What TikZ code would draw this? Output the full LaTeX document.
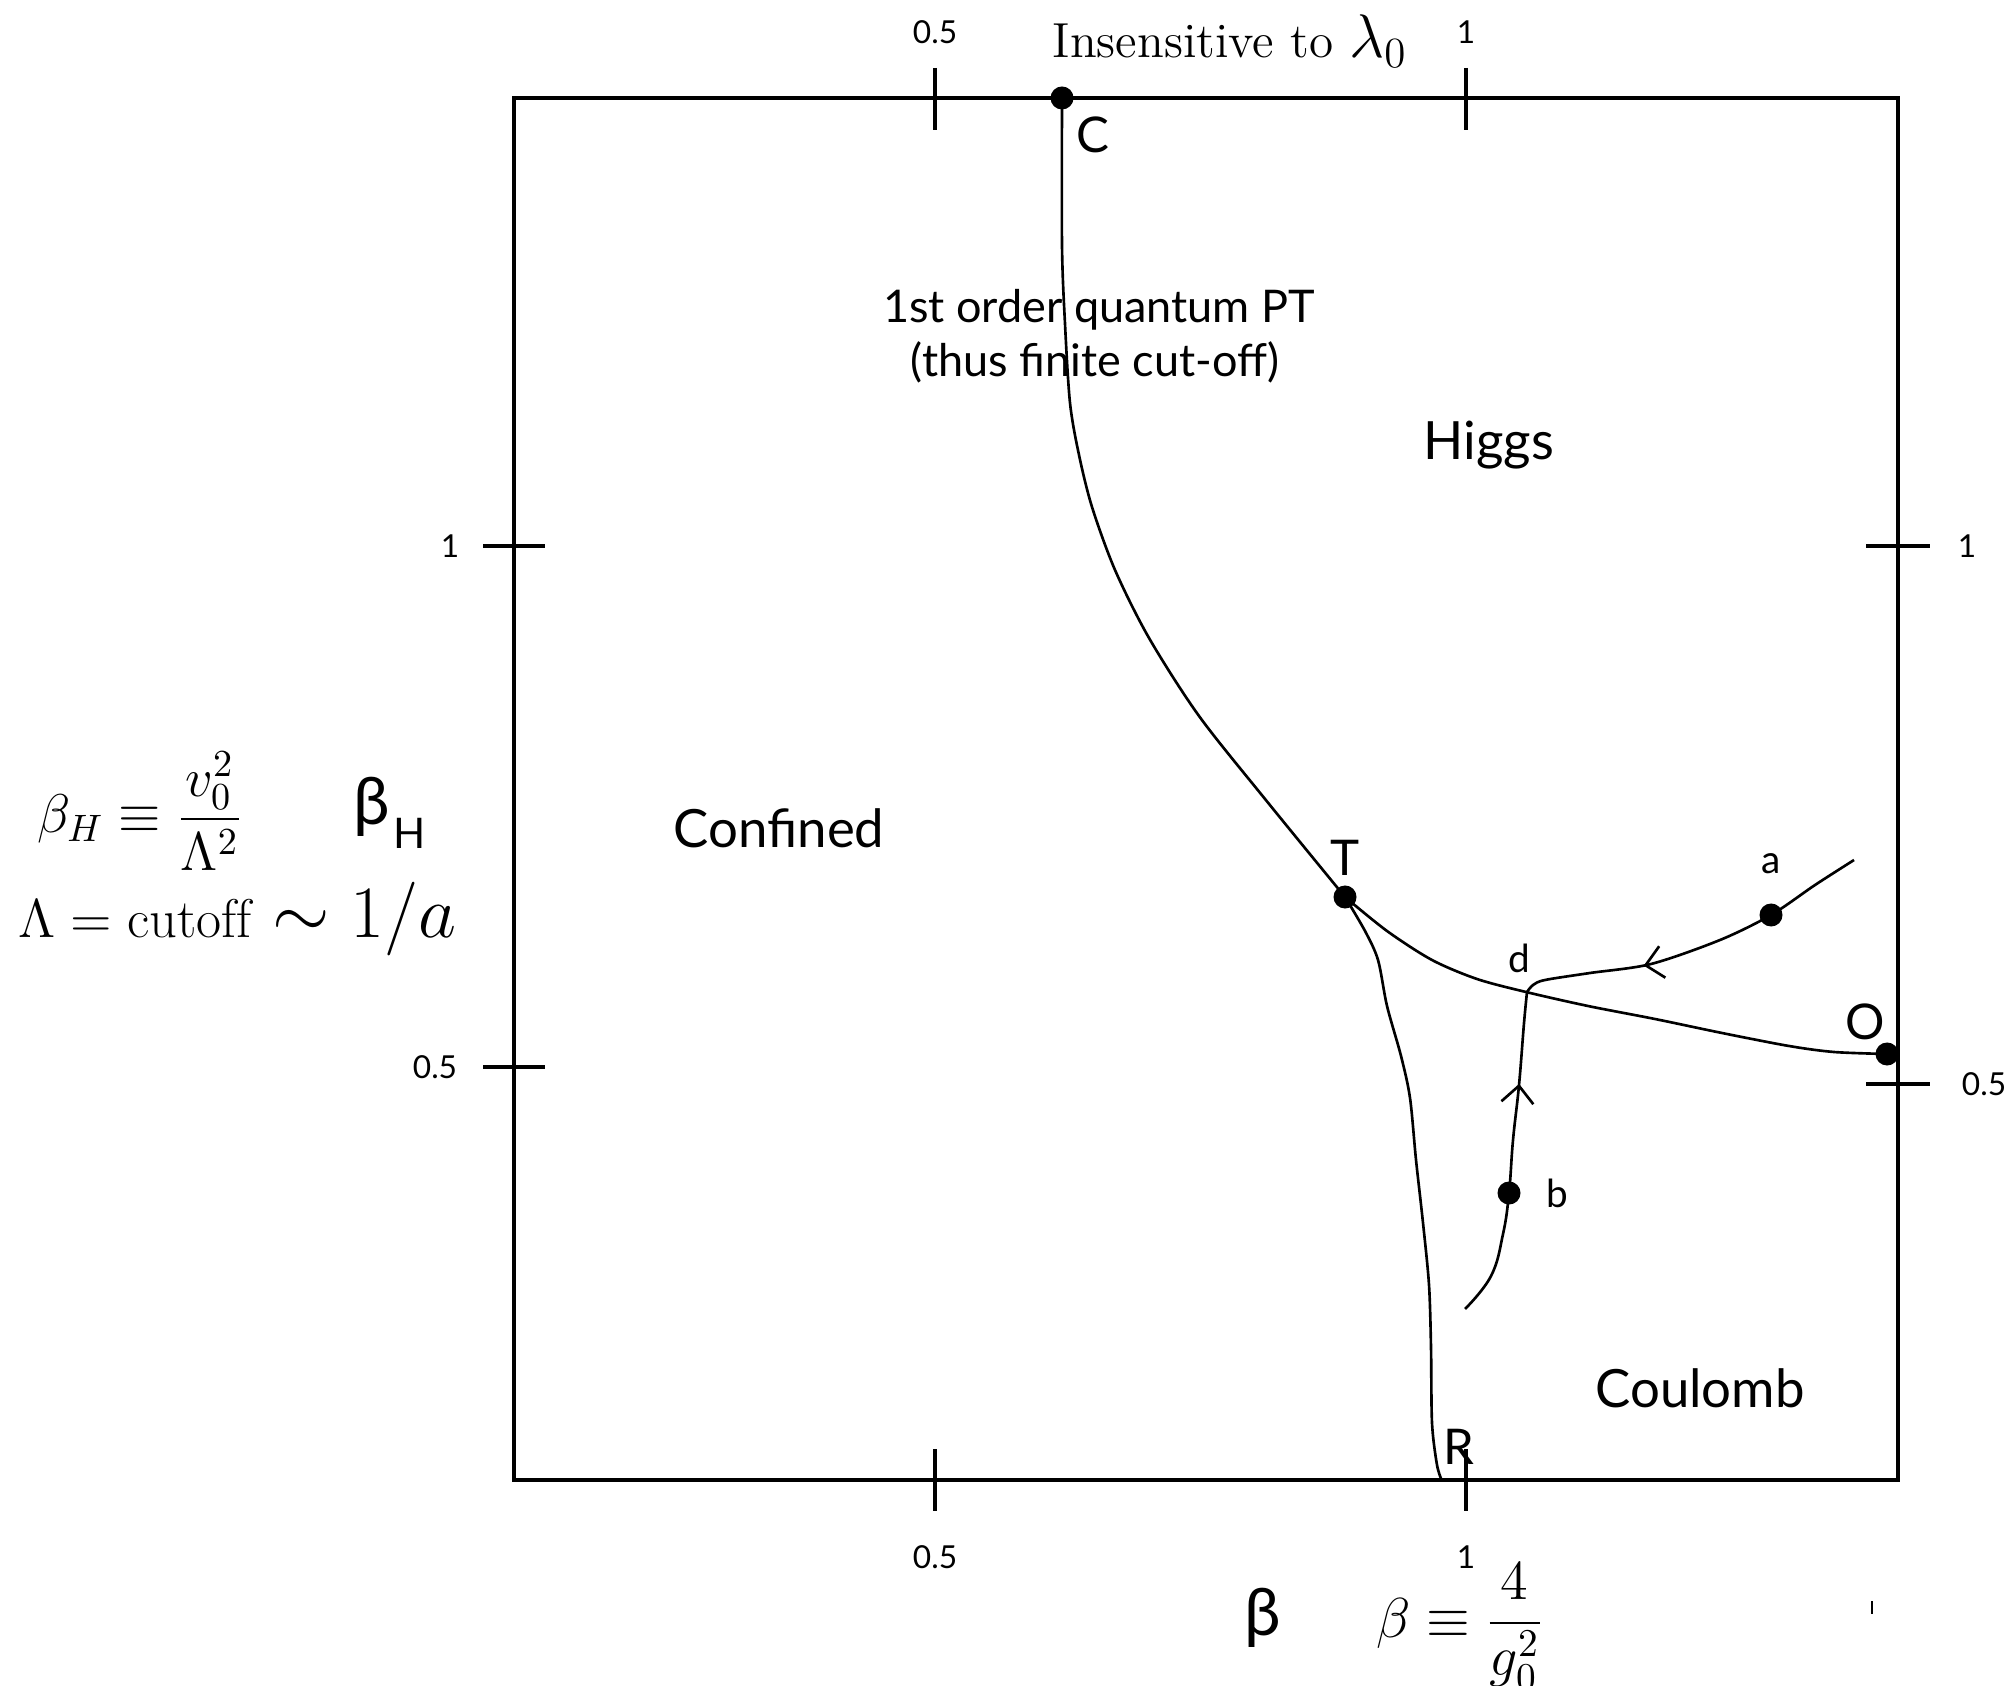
\RequirePackage{fix-cm}
\documentclass[tikz,border=0pt]{standalone}
\usepackage{amsmath,amssymb}
\usepackage{fontspec}
\newfontfamily\labelfont{Lato}
\usetikzlibrary{
  arrows.meta,
  positioning,
  decorations.markings
}
\tikzset{
  frame/.style={line width=0.9pt},
  tickmark/.style={line width=0.9pt},
  phaseline/.style={line width=0.75pt},
  flowline/.style={
    line width=0.75pt, postaction={decorate},
    decoration={markings,
      mark=at position #1 with {\arrow{Straight Barb[length=0.17cm,width=0.32cm]}}}
  },
  fixpt/.style={circle, fill=black, inner sep=0pt, minimum size=0.23cm},
  ticklbl/.style={font=\labelfont\fontsize{9}{9}\selectfont, inner sep=0pt},
  ptlbl/.style={font=\labelfont\fontsize{14}{14}\selectfont, inner sep=0pt},
  smalllbl/.style={font=\labelfont\fontsize{11}{11}\selectfont, inner sep=0pt},
  phaselbl/.style={font=\labelfont\fontsize{15}{15}\selectfont, inner sep=0pt},
  notelbl/.style={font=\labelfont\fontsize{12.8}{12.8}\selectfont, inner sep=0pt},
  mathlbl/.style={inner sep=0pt}
}

\begin{document}
\begin{tikzpicture}[x=0.01cm, y=-0.01cm]
  \useasboundingbox (0,0) rectangle (2016,1686);

  %% -- frame and ticks -------------------------------------------------
  \draw[frame] (514,98) rectangle (1898,1480);
  \foreach \xx in {935,1466} {
    \draw[tickmark] (\xx,68) -- (\xx,130);
    \draw[tickmark] (\xx,1449) -- (\xx,1511);
  }
  \draw[tickmark] (483,546) -- (545,546);
  \draw[tickmark] (483,1067) -- (545,1067);
  \draw[tickmark] (1866,546) -- (1930,546);
  \draw[tickmark] (1866,1084) -- (1930,1084);
  \draw[tickmark, line width=0.6pt] (1872,1601) -- (1872,1614);

  \node[ticklbl, anchor=base] (topa)   at (935,44)   {0.5};
  \node[ticklbl, anchor=base] (topb)   at (1466,44)  {1};
  \node[ticklbl, anchor=base] (bota)   at (935,1568) {0.5};
  \node[ticklbl, anchor=base] (botb)   at (1466,1568){1};
  \node[ticklbl] (lefta)  at (450,546)  {1};
  \node[ticklbl] (leftb)  at (435,1067) {0.5};
  \node[ticklbl] (righta) at (1967,546) {1};
  \node[ticklbl] (rightb) at (1984,1084){0.5};

  %% -- axis texts --------------------------------------------------------
  \node[mathlbl, anchor=base] (insens) at (1230,58)
    {\fontsize{14}{14}\selectfont Insensitive to\ {\fontsize{17.5}{17.5}\selectfont$\lambda_0$}};
  \node[mathlbl] (betadef) at (140,811)
    {\fontsize{15.5}{18}\selectfont$\displaystyle\beta_H\equiv\frac{v_0^2}{\Lambda^2}$};
  \node[mathlbl, anchor=base west] (cutoff) at (18,938)
    {\fontsize{15.5}{18}\selectfont$\Lambda=\mathrm{cutoff}$%
     {\fontsize{21}{24}\selectfont$\;\sim 1/a$}};
  \node[mathlbl] (gdef) at (1460,1627)
    {\fontsize{16}{18}\selectfont$\displaystyle\beta\equiv\frac{4}{g_0^2}$};
  \node[anchor=base, inner sep=0pt, font=\labelfont\fontsize{18.6}{18.6}\selectfont]
    (betaaxis) at (1263,1635) {β};
  \node[anchor=base, inner sep=0pt, font=\labelfont\fontsize{18.6}{18.6}\selectfont]
    (betaHaxis) at (372,825) {β};
  \node[anchor=base west, inner sep=0pt, font=\labelfont\fontsize{12}{12}\selectfont]
    (betaHsub) at (393,849) {H};

  %% -- phases --------------------------------------------------------------
  \node[phaselbl, anchor=base] (confined) at (779,847)  {Confined};
  \node[phaselbl, anchor=base] (higgs)    at (1489,460) {Higgs};
  \node[phaselbl, anchor=base] (coulomb)  at (1700,1407){Coulomb};
  \node[notelbl, anchor=base] (ptnote)     at (1099,323) {1st order quantum PT};
  \node[notelbl, anchor=base] (ptnotecont) at (1095,377) {(thus finite cut-off)};

  %% -- points ----------------------------------------------------------------
  \node[fixpt] (C) at (1062,98)   {};
  \node[fixpt] (T) at (1345,897)  {};
  \node[fixpt] (O) at (1887,1054) {};
  \node[fixpt] (a) at (1771,915)  {};
  \node[fixpt] (b) at (1509,1193) {};
  \coordinate (d)    at (1527,992);
  \coordinate (rend) at (1442,1481);
  \coordinate (bstart) at (1465,1309);
  \coordinate (astart) at (1854,860);

  \node[ptlbl, below right=0.1cm and 0.05cm of C] (Clabel) {C};
  \node[ptlbl, above=0.09cm of T] (Tlabel) {T};
  \node[ptlbl, anchor=base] (Olabel) at (1865,1039) {O};
  \node[ptlbl, anchor=base] (Rlabel) at (1459,1464) {R};
  \node[smalllbl, above=0.28cm of a] (alabel) {a};
  \node[smalllbl, right=0.25cm of b] (blabel) {b};
  \node[smalllbl, anchor=base] (dlabel) at (1519,972) {d};

  %% -- phase boundaries --------------------------------------------------------
  \draw[phaseline] plot[smooth, tension=0.5] coordinates {(C.center) (1062,246)
    (1065,324) (1070,403) (1079,455) (1092,507) (1115,570) (1149,638) (1199,716)
    (1265,799) (T.center)};
  \draw[phaseline] plot[smooth, tension=0.5] coordinates {(T.center) (1387,931)
    (1432,960) (1477,979) (1526,992) (1588,1006) (1655,1019) (1722,1033)
    (1789,1046) (1834,1052) (O.center)};
  \draw[phaseline] plot[smooth, tension=0.5] coordinates {(T.center) (1365,931)
    (1378,960) (1387,1006) (1401,1056) (1410,1098) (1416,1160) (1423,1223)
    (1429,1285) (1431,1348) (1432,1423) (1437,1465) (rend)};

  %% -- flows into d ------------------------------------------------------------
  \draw[flowline=0.72] plot[smooth, tension=0.7] coordinates {(bstart)
    (1491,1276) (1503,1234) (b.center) (1513,1140) (1519,1085) (1524,1023) (d)};
  \draw[flowline=0.66] plot[smooth, tension=0.5] coordinates {(astart) (1815,885)
    (a.center) (1720,940) (1651,964) (1590,973) (1545,980) (1533,985) (d)};

\end{tikzpicture}
\end{document}
